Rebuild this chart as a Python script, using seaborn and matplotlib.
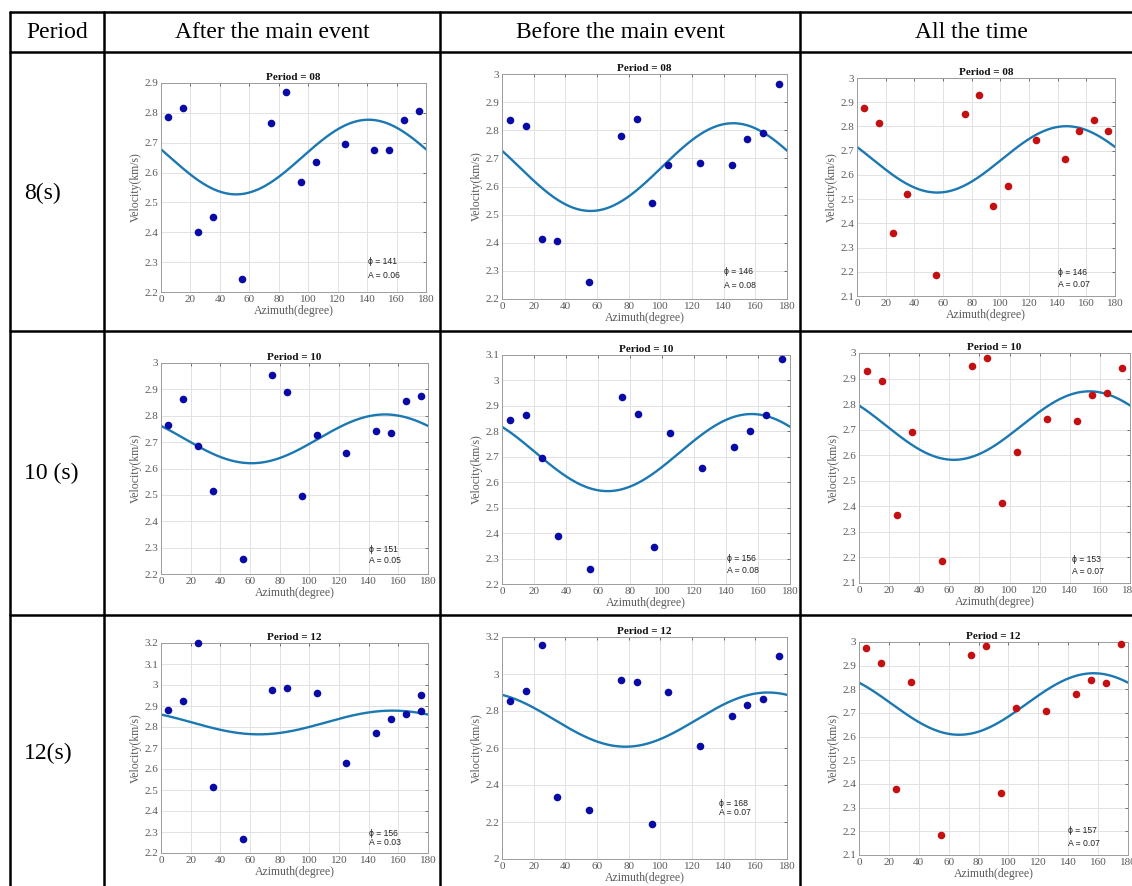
import numpy as np
import pandas as pd
import matplotlib
matplotlib.use("Agg")
import matplotlib.pyplot as plt
import seaborn as sns
from matplotlib.lines import Line2D
from matplotlib.ticker import FuncFormatter, MultipleLocator

sns.set_theme(style="white")
plt.rcParams["font.family"] = ["Liberation Serif", "DejaVu Serif"]

# ---------------- data ----------------
column_titles = ["After the main event", "Before the main event", "All the time"]
row_labels = ["8(s)", "10 (s)", "12(s)"]
period_titles = ["Period = 08", "Period = 10", "Period = 12"]

azimuth = [5, 15, 25, 35, 55, 75, 85, 95, 105, 125, 145, 155, 165, 175]
azimuth_after_12 = [5, 15, 25, 35, 55, 75, 85, 105, 125, 145, 155, 165, 175, 175]

vel_after_08 = [2.785, 2.815, 2.40, 2.45, 2.245, 2.765, 2.87, 2.57, 2.635, 2.695, 2.675, 2.675, 2.775, 2.805]
vel_before_08 = [2.835, 2.815, 2.415, 2.405, 2.26, 2.78, 2.84, 2.54, 2.678, 2.683, 2.675, 2.77, 2.79, 2.965]
vel_all_08 = [2.875, 2.815, 2.36, 2.52, 2.185, 2.85, 2.93, 2.47, 2.555, 2.745, 2.665, 2.78, 2.825, 2.78]

vel_after_10 = [2.765, 2.865, 2.685, 2.515, 2.255, 2.955, 2.89, 2.495, 2.728, 2.66, 2.743, 2.733, 2.855, 2.875]
vel_before_10 = [2.845, 2.865, 2.695, 2.39, 2.26, 2.935, 2.87, 2.345, 2.795, 2.655, 2.74, 2.80, 2.865, 3.085]
vel_all_10 = [2.93, 2.89, 2.365, 2.69, 2.185, 2.95, 2.98, 2.415, 2.612, 2.743, 2.733, 2.835, 2.845, 2.94]

vel_after_12 = [2.88, 2.922, 3.20, 2.515, 2.265, 2.978, 2.985, 2.96, 2.627, 2.772, 2.837, 2.86, 2.95, 2.875]
vel_before_12 = [2.855, 2.91, 3.155, 2.335, 2.265, 2.965, 2.955, 2.19, 2.905, 2.61, 2.773, 2.832, 2.865, 3.10]
vel_all_12 = [2.975, 2.91, 2.38, 2.83, 2.185, 2.945, 2.985, 2.362, 2.72, 2.71, 2.782, 2.84, 2.825, 2.99]

# fitted cos(2θ) model parameters per panel (row-major: period x column)
fit_phi = [141, 146, 146, 151, 156, 153, 156, 168, 157]
fit_mean = [2.652, 2.669, 2.664, 2.7125, 2.7165, 2.716, 2.8215, 2.7535, 2.738]
fit_halfamp = [0.125, 0.156, 0.137, 0.0925, 0.1515, 0.134, 0.0565, 0.1465, 0.13]
fit_A_text = ["0.06", "0.08", "0.07", "0.05", "0.08", "0.07", "0.03", "0.07", "0.07"]

y_limits = [(2.2, 2.9), (2.2, 3.0), (2.1, 3.0),
            (2.2, 3.0), (2.2, 3.1), (2.1, 3.0),
            (2.2, 3.2), (2.0, 3.2), (2.1, 3.0)]
y_steps = [0.1, 0.1, 0.1, 0.1, 0.1, 0.1, 0.1, 0.2, 0.1]

panel_az = [azimuth, azimuth, azimuth,
            azimuth, azimuth, azimuth,
            azimuth_after_12, azimuth, azimuth]
panel_vel = [vel_after_08, vel_before_08, vel_all_08,
             vel_after_10, vel_before_10, vel_all_10,
             vel_after_12, vel_before_12, vel_all_12]

# ---------------- layout (pixels) ----------------
W, H = 1132, 886
fig = plt.figure(figsize=(W / 100, H / 100), dpi=100)
fig.patch.set_facecolor("white")

def fx(x):
    return x / W

def fy(y):
    return 1 - y / H

axes_px = [(161, 83, 426, 292), (502, 74, 787, 299), (857, 78, 1115, 296),
           (161, 363, 428, 574), (502, 355, 790, 584), (859, 353, 1130, 583),
           (161, 643, 428, 853), (502, 637, 787, 859), (859, 642, 1128, 855)]
annot_pos = [(0.78, 0.144, 0.077), (0.78, 0.12, 0.062), (0.78, 0.11, 0.055),
             (0.78, 0.114, 0.062), (0.78, 0.113, 0.061), (0.786, 0.104, 0.052),
             (0.78, 0.095, 0.048), (0.76, 0.25, 0.21), (0.777, 0.113, 0.056)]

point_colors = ["#0a0aa6", "#0a0aa6", "#c41010"]
curve_color = "#1b78b2"
gray = "#5a5a5a"

fmt = FuncFormatter(lambda v, p: f"{v:g}")

for i in range(9):
    r, c = divmod(i, 3)
    l, t, rr, b = axes_px[i]
    ax = fig.add_axes([fx(l), fy(b), fx(rr) - fx(l), (b - t) / H])
    df = pd.DataFrame({"Azimuth": panel_az[i], "Velocity": panel_vel[i]})
    theta = np.linspace(0, 180, 361)
    curve = fit_mean[i] + fit_halfamp[i] * np.cos(np.deg2rad(2 * (theta - fit_phi[i])))
    cdf = pd.DataFrame({"Azimuth": theta, "Velocity": curve})
    sns.lineplot(data=cdf, x="Azimuth", y="Velocity", ax=ax, color=curve_color,
                 lw=1.7, sort=False, estimator=None)
    sns.scatterplot(data=df, x="Azimuth", y="Velocity", ax=ax, color=point_colors[c],
                    s=30, linewidth=0, zorder=3, clip_on=False)
    ax.set_xlim(0, 180)
    ax.set_ylim(*y_limits[i])
    ax.xaxis.set_major_locator(MultipleLocator(20))
    ax.yaxis.set_major_locator(MultipleLocator(y_steps[i]))
    ax.yaxis.set_major_formatter(fmt)
    ax.xaxis.set_major_formatter(fmt)
    ax.grid(True, color="#e2e2e2", lw=0.7)
    ax.tick_params(direction="in", length=2.5, width=0.6, top=True, right=True,
                   labelsize=8, colors=gray, pad=2)
    for sp in ax.spines.values():
        sp.set_color("#9c9c9c")
        sp.set_linewidth(0.7)
    ax.set_xlabel("Azimuth(degree)", fontsize=8.5, color=gray, labelpad=1)
    ax.set_ylabel("Velocity(km/s)", fontsize=8.5, color=gray, labelpad=2)
    ax.set_title(period_titles[r], fontsize=8, fontweight="bold", color="#111111", pad=2)
    xa, y1, y2 = annot_pos[i]
    ax.text(xa, y1, f"ϕ = {fit_phi[i]}", transform=ax.transAxes, fontsize=6.2,
            family=["Liberation Sans", "DejaVu Sans"], va="center", ha="left", color="#222222")
    ax.text(xa, y2, f"A = {fit_A_text[i]}", transform=ax.transAxes, fontsize=6.2,
            family=["Liberation Sans", "DejaVu Sans"], va="center", ha="left", color="#222222")

# ---------------- table frame ----------------
lw = 1.8
x_lines = [10, 104, 440, 800]
y_lines = [12, 52, 331, 615]
for x in x_lines:
    fig.add_artist(Line2D([fx(x), fx(x)], [fy(12), fy(H + 5)], color="black", lw=lw,
                          transform=fig.transFigure))
for y in y_lines:
    fig.add_artist(Line2D([fx(10), fx(W + 5)], [fy(y), fy(y)], color="black", lw=lw,
                          transform=fig.transFigure))

header_x = [57, 272, 620, 971]
fig.text(fx(header_x[0]), fy(33), "Period", fontsize=17, ha="center", va="center", color="black")
for k, name in enumerate(column_titles):
    fig.text(fx(header_x[k + 1]), fy(33), name, fontsize=17, ha="center", va="center", color="black")

row_y = [193, 473, 753]
for k, lab in enumerate(row_labels):
    fig.text(fx(24), fy(row_y[k]), lab, fontsize=17, ha="left", va="center", color="black")

fig.savefig("out.png", dpi=100, facecolor="white")
